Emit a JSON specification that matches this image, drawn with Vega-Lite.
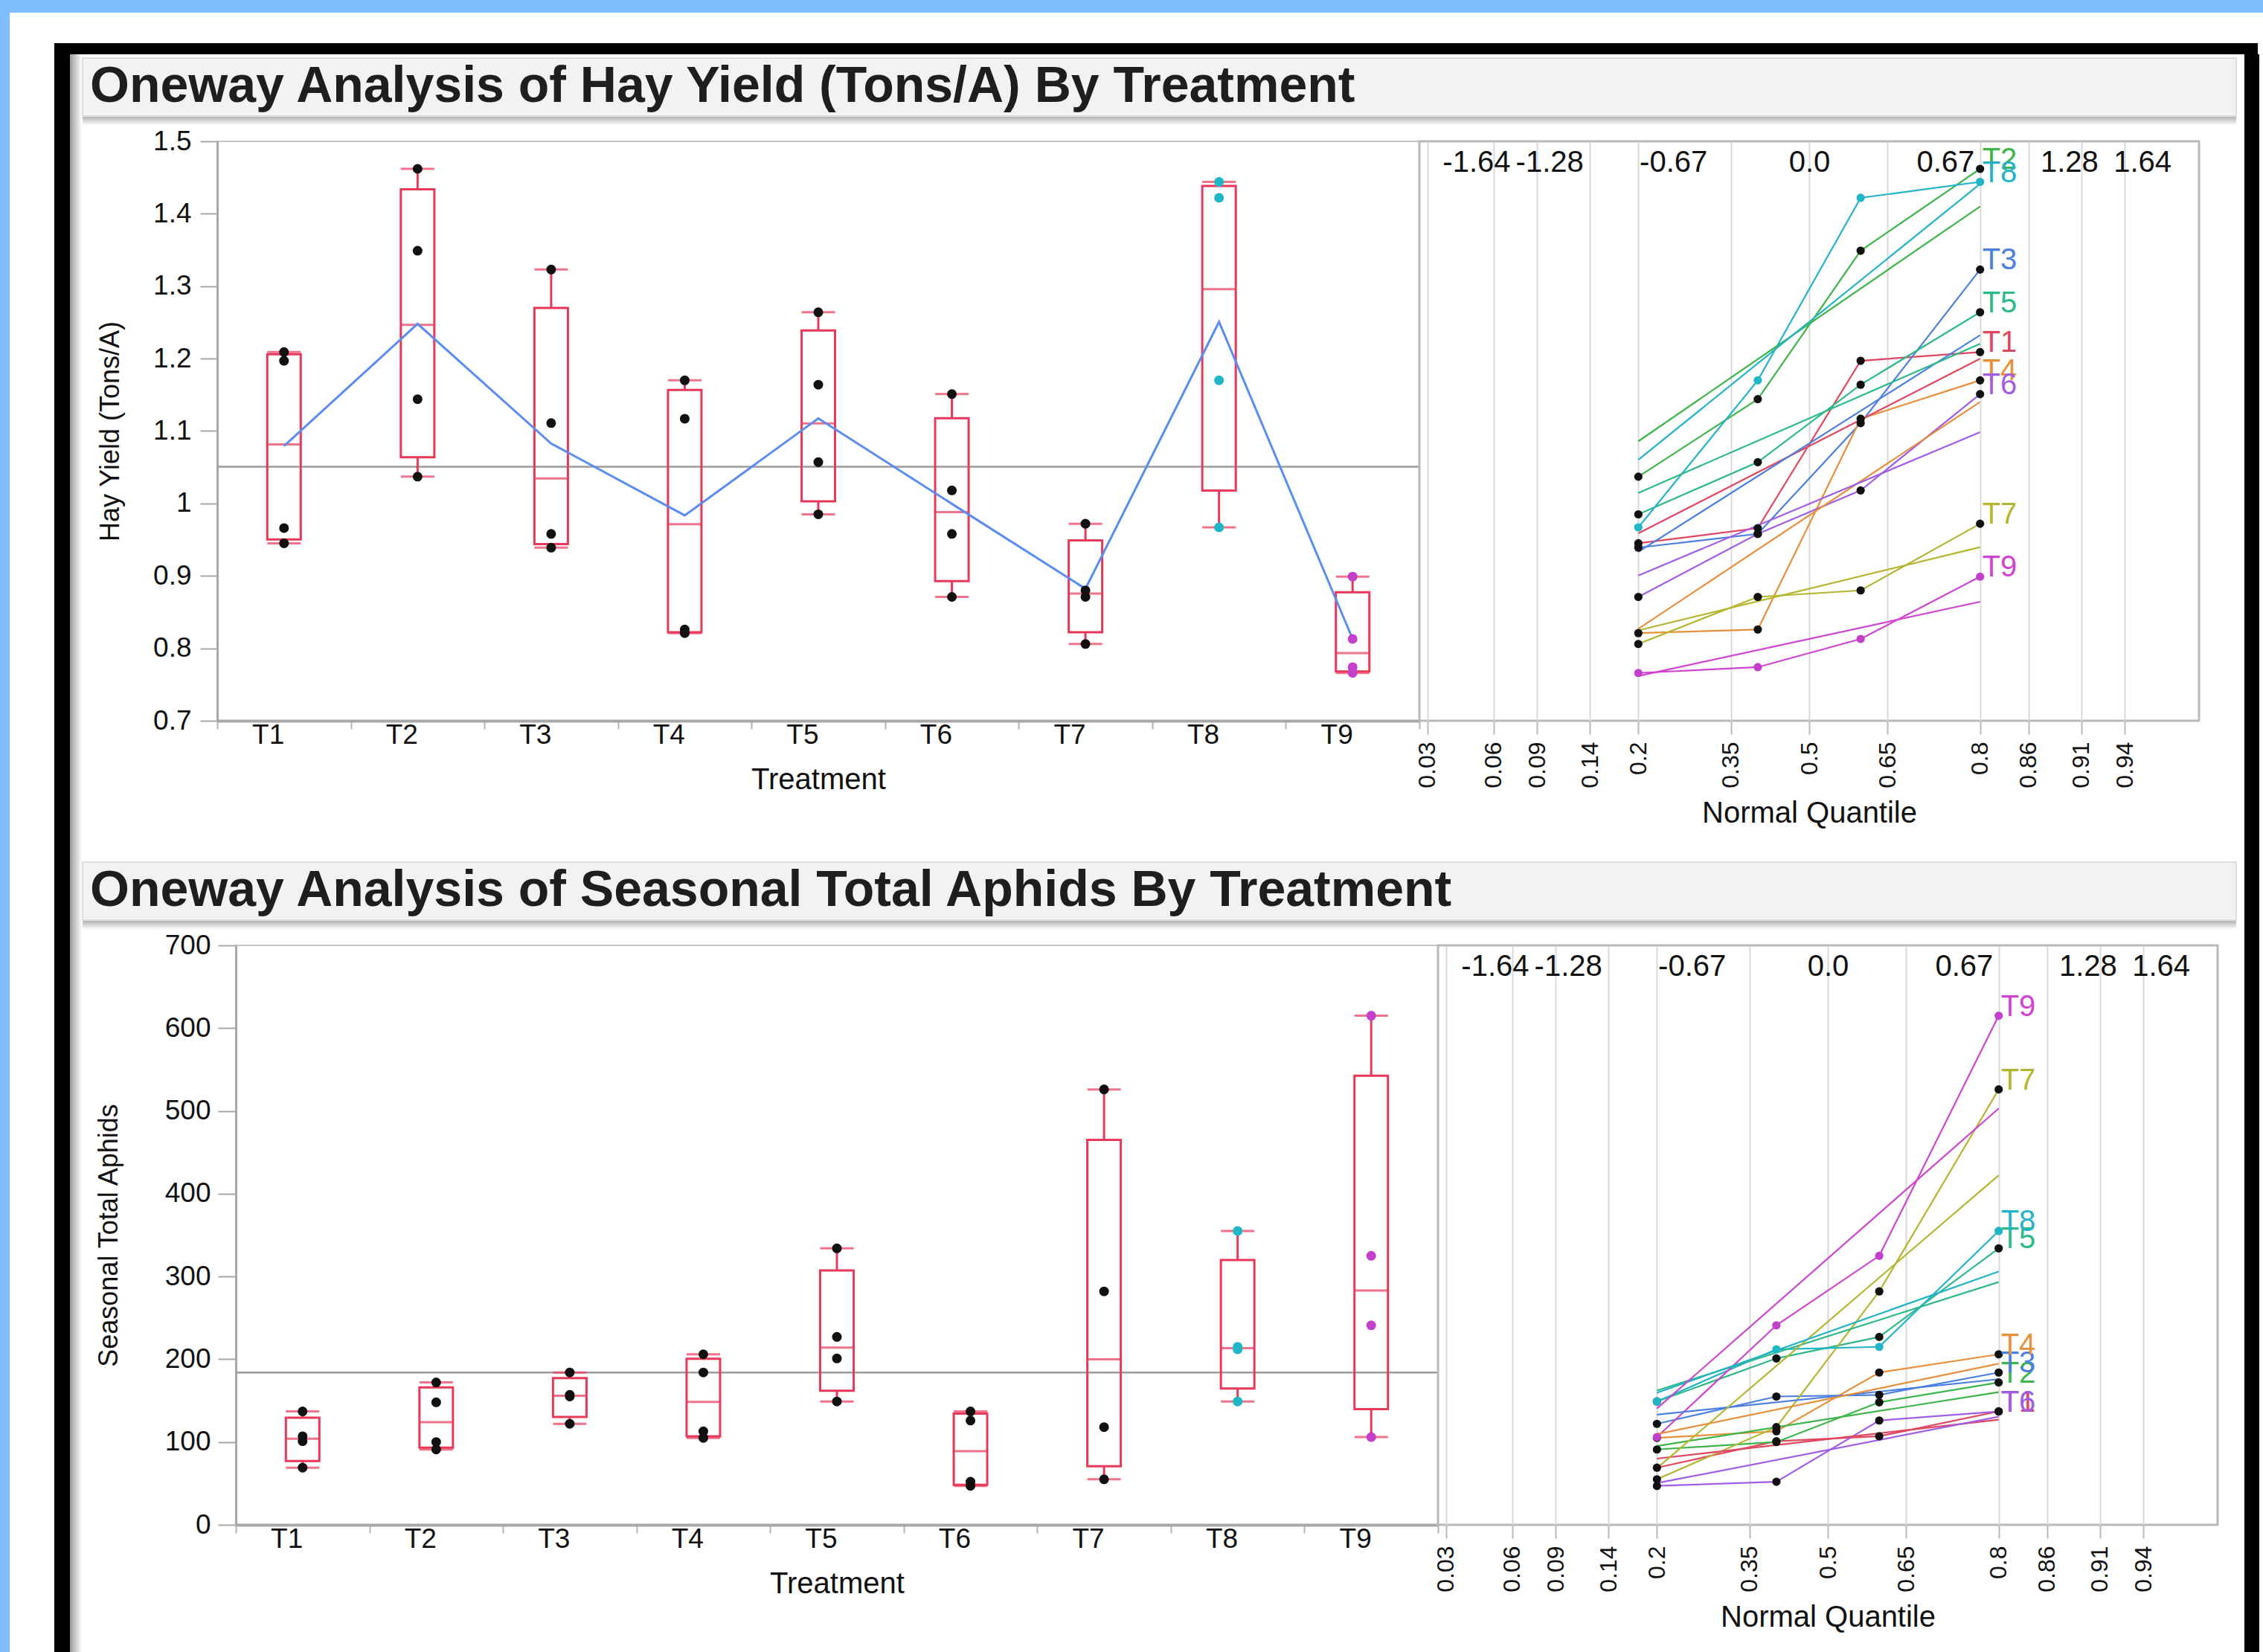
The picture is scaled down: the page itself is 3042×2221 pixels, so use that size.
{
  "$schema": "https://vega.github.io/schema/vega-lite/v6.json",
  "background": "#ffffff",
  "padding": 0,
  "spacing": 0,
  "config": {
    "view": {"stroke": null},
    "font": "Liberation Sans",
    "axis": {"labelColor": "#111111", "titleColor": "#111111", "titleFontWeight": "normal"}
  },
  "datasets": {
    "hay": [
      {"Treatment": "T1", "Yield": 0.945, "NormalQuantile": -0.8416},
      {"Treatment": "T1", "Yield": 0.966, "NormalQuantile": -0.2533},
      {"Treatment": "T1", "Yield": 1.197, "NormalQuantile": 0.2533},
      {"Treatment": "T1", "Yield": 1.209, "NormalQuantile": 0.8416},
      {"Treatment": "T2", "Yield": 1.037, "NormalQuantile": -0.8416},
      {"Treatment": "T2", "Yield": 1.144, "NormalQuantile": -0.2533},
      {"Treatment": "T2", "Yield": 1.349, "NormalQuantile": 0.2533},
      {"Treatment": "T2", "Yield": 1.462, "NormalQuantile": 0.8416},
      {"Treatment": "T3", "Yield": 0.939, "NormalQuantile": -0.8416},
      {"Treatment": "T3", "Yield": 0.958, "NormalQuantile": -0.2533},
      {"Treatment": "T3", "Yield": 1.111, "NormalQuantile": 0.2533},
      {"Treatment": "T3", "Yield": 1.323, "NormalQuantile": 0.8416},
      {"Treatment": "T4", "Yield": 0.821, "NormalQuantile": -0.8416},
      {"Treatment": "T4", "Yield": 0.826, "NormalQuantile": -0.2533},
      {"Treatment": "T4", "Yield": 1.117, "NormalQuantile": 0.2533},
      {"Treatment": "T4", "Yield": 1.170, "NormalQuantile": 0.8416},
      {"Treatment": "T5", "Yield": 0.985, "NormalQuantile": -0.8416},
      {"Treatment": "T5", "Yield": 1.057, "NormalQuantile": -0.2533},
      {"Treatment": "T5", "Yield": 1.164, "NormalQuantile": 0.2533},
      {"Treatment": "T5", "Yield": 1.264, "NormalQuantile": 0.8416},
      {"Treatment": "T6", "Yield": 0.871, "NormalQuantile": -0.8416},
      {"Treatment": "T6", "Yield": 0.958, "NormalQuantile": -0.2533},
      {"Treatment": "T6", "Yield": 1.018, "NormalQuantile": 0.2533},
      {"Treatment": "T6", "Yield": 1.151, "NormalQuantile": 0.8416},
      {"Treatment": "T7", "Yield": 0.806, "NormalQuantile": -0.8416},
      {"Treatment": "T7", "Yield": 0.871, "NormalQuantile": -0.2533},
      {"Treatment": "T7", "Yield": 0.880, "NormalQuantile": 0.2533},
      {"Treatment": "T7", "Yield": 0.972, "NormalQuantile": 0.8416},
      {"Treatment": "T8", "Yield": 0.967, "NormalQuantile": -0.8416},
      {"Treatment": "T8", "Yield": 1.170, "NormalQuantile": -0.2533},
      {"Treatment": "T8", "Yield": 1.422, "NormalQuantile": 0.2533},
      {"Treatment": "T8", "Yield": 1.444, "NormalQuantile": 0.8416},
      {"Treatment": "T9", "Yield": 0.766, "NormalQuantile": -0.8416},
      {"Treatment": "T9", "Yield": 0.774, "NormalQuantile": -0.2533},
      {"Treatment": "T9", "Yield": 0.813, "NormalQuantile": 0.2533},
      {"Treatment": "T9", "Yield": 0.899, "NormalQuantile": 0.8416}
    ],
    "hayBox": [
      {"Treatment": "T1", "Min": 0.945, "Q1": 0.9503, "Median": 1.0815, "Q3": 1.206, "Max": 1.209},
      {"Treatment": "T2", "Min": 1.037, "Q1": 1.0638, "Median": 1.2465, "Q3": 1.4338, "Max": 1.462},
      {"Treatment": "T3", "Min": 0.939, "Q1": 0.9438, "Median": 1.0345, "Q3": 1.270, "Max": 1.323},
      {"Treatment": "T4", "Min": 0.821, "Q1": 0.8223, "Median": 0.9715, "Q3": 1.1568, "Max": 1.170},
      {"Treatment": "T5", "Min": 0.985, "Q1": 1.003, "Median": 1.1105, "Q3": 1.239, "Max": 1.264},
      {"Treatment": "T6", "Min": 0.871, "Q1": 0.8928, "Median": 0.988, "Q3": 1.1178, "Max": 1.151},
      {"Treatment": "T7", "Min": 0.806, "Q1": 0.8223, "Median": 0.8755, "Q3": 0.949, "Max": 0.972},
      {"Treatment": "T8", "Min": 0.967, "Q1": 1.0178, "Median": 1.296, "Q3": 1.4385, "Max": 1.444},
      {"Treatment": "T9", "Min": 0.766, "Q1": 0.768, "Median": 0.7935, "Q3": 0.8775, "Max": 0.899}
    ],
    "hayFit": [
      {"Treatment": "T1", "NormalQuantile": -0.8416, "Yield": 0.9587}, {"Treatment": "T1", "NormalQuantile": 0.8416, "Yield": 1.1998},
      {"Treatment": "T2", "NormalQuantile": -0.8416, "Yield": 1.0859}, {"Treatment": "T2", "NormalQuantile": 0.8416, "Yield": 1.4101},
      {"Treatment": "T3", "NormalQuantile": -0.8416, "Yield": 0.9332}, {"Treatment": "T3", "NormalQuantile": 0.8416, "Yield": 1.2323},
      {"Treatment": "T4", "NormalQuantile": -0.8416, "Yield": 0.8269}, {"Treatment": "T4", "NormalQuantile": 0.8416, "Yield": 1.1401},
      {"Treatment": "T5", "NormalQuantile": -0.8416, "Yield": 1.0146}, {"Treatment": "T5", "NormalQuantile": 0.8416, "Yield": 1.2204},
      {"Treatment": "T6", "NormalQuantile": -0.8416, "Yield": 0.9005}, {"Treatment": "T6", "NormalQuantile": 0.8416, "Yield": 1.0985},
      {"Treatment": "T7", "NormalQuantile": -0.8416, "Yield": 0.8248}, {"Treatment": "T7", "NormalQuantile": 0.8416, "Yield": 0.9397},
      {"Treatment": "T8", "NormalQuantile": -0.8416, "Yield": 1.0603}, {"Treatment": "T8", "NormalQuantile": 0.8416, "Yield": 1.4412},
      {"Treatment": "T9", "NormalQuantile": -0.8416, "Yield": 0.7618}, {"Treatment": "T9", "NormalQuantile": 0.8416, "Yield": 0.8643}
    ],
    "aphids": [
      {"Treatment": "T1", "Aphids": 69, "NormalQuantile": -0.8416},
      {"Treatment": "T1", "Aphids": 101, "NormalQuantile": -0.2533},
      {"Treatment": "T1", "Aphids": 107, "NormalQuantile": 0.2533},
      {"Treatment": "T1", "Aphids": 137, "NormalQuantile": 0.8416},
      {"Treatment": "T2", "Aphids": 91, "NormalQuantile": -0.8416},
      {"Treatment": "T2", "Aphids": 100, "NormalQuantile": -0.2533},
      {"Treatment": "T2", "Aphids": 148, "NormalQuantile": 0.2533},
      {"Treatment": "T2", "Aphids": 172, "NormalQuantile": 0.8416},
      {"Treatment": "T3", "Aphids": 122, "NormalQuantile": -0.8416},
      {"Treatment": "T3", "Aphids": 155, "NormalQuantile": -0.2533},
      {"Treatment": "T3", "Aphids": 157, "NormalQuantile": 0.2533},
      {"Treatment": "T3", "Aphids": 184, "NormalQuantile": 0.8416},
      {"Treatment": "T4", "Aphids": 105, "NormalQuantile": -0.8416},
      {"Treatment": "T4", "Aphids": 113, "NormalQuantile": -0.2533},
      {"Treatment": "T4", "Aphids": 184, "NormalQuantile": 0.2533},
      {"Treatment": "T4", "Aphids": 206, "NormalQuantile": 0.8416},
      {"Treatment": "T5", "Aphids": 149, "NormalQuantile": -0.8416},
      {"Treatment": "T5", "Aphids": 201, "NormalQuantile": -0.2533},
      {"Treatment": "T5", "Aphids": 227, "NormalQuantile": 0.2533},
      {"Treatment": "T5", "Aphids": 334, "NormalQuantile": 0.8416},
      {"Treatment": "T6", "Aphids": 47, "NormalQuantile": -0.8416},
      {"Treatment": "T6", "Aphids": 52, "NormalQuantile": -0.2533},
      {"Treatment": "T6", "Aphids": 126, "NormalQuantile": 0.2533},
      {"Treatment": "T6", "Aphids": 137, "NormalQuantile": 0.8416},
      {"Treatment": "T7", "Aphids": 55, "NormalQuantile": -0.8416},
      {"Treatment": "T7", "Aphids": 118, "NormalQuantile": -0.2533},
      {"Treatment": "T7", "Aphids": 282, "NormalQuantile": 0.2533},
      {"Treatment": "T7", "Aphids": 526, "NormalQuantile": 0.8416},
      {"Treatment": "T8", "Aphids": 149, "NormalQuantile": -0.8416},
      {"Treatment": "T8", "Aphids": 212, "NormalQuantile": -0.2533},
      {"Treatment": "T8", "Aphids": 215, "NormalQuantile": 0.2533},
      {"Treatment": "T8", "Aphids": 355, "NormalQuantile": 0.8416},
      {"Treatment": "T9", "Aphids": 106, "NormalQuantile": -0.8416},
      {"Treatment": "T9", "Aphids": 241, "NormalQuantile": -0.2533},
      {"Treatment": "T9", "Aphids": 325, "NormalQuantile": 0.2533},
      {"Treatment": "T9", "Aphids": 615, "NormalQuantile": 0.8416}
    ],
    "aphidBox": [
      {"Treatment": "T1", "Min": 69, "Q1": 77, "Median": 104, "Q3": 129.5, "Max": 137},
      {"Treatment": "T2", "Min": 91, "Q1": 93.25, "Median": 124, "Q3": 166, "Max": 172},
      {"Treatment": "T3", "Min": 122, "Q1": 130.25, "Median": 156, "Q3": 177.25, "Max": 184},
      {"Treatment": "T4", "Min": 105, "Q1": 107, "Median": 148.5, "Q3": 200.5, "Max": 206},
      {"Treatment": "T5", "Min": 149, "Q1": 162, "Median": 214, "Q3": 307.25, "Max": 334},
      {"Treatment": "T6", "Min": 47, "Q1": 48.25, "Median": 89, "Q3": 134.25, "Max": 137},
      {"Treatment": "T7", "Min": 55, "Q1": 70.75, "Median": 200, "Q3": 465, "Max": 526},
      {"Treatment": "T8", "Min": 149, "Q1": 164.75, "Median": 213.5, "Q3": 320, "Max": 355},
      {"Treatment": "T9", "Min": 106, "Q1": 139.75, "Median": 283, "Q3": 542.5, "Max": 615}
    ],
    "aphidFit": [
      {"Treatment": "T1", "NormalQuantile": -0.8416, "Aphids": 80.0}, {"Treatment": "T1", "NormalQuantile": 0.8416, "Aphids": 127.0},
      {"Treatment": "T2", "NormalQuantile": -0.8416, "Aphids": 95.2}, {"Treatment": "T2", "NormalQuantile": 0.8416, "Aphids": 160.3},
      {"Treatment": "T3", "NormalQuantile": -0.8416, "Aphids": 133.1}, {"Treatment": "T3", "NormalQuantile": 0.8416, "Aphids": 175.9},
      {"Treatment": "T4", "NormalQuantile": -0.8416, "Aphids": 109.5}, {"Treatment": "T4", "NormalQuantile": 0.8416, "Aphids": 194.6},
      {"Treatment": "T5", "NormalQuantile": -0.8416, "Aphids": 162.2}, {"Treatment": "T5", "NormalQuantile": 0.8416, "Aphids": 293.3},
      {"Treatment": "T6", "NormalQuantile": -0.8416, "Aphids": 50.4}, {"Treatment": "T6", "NormalQuantile": 0.8416, "Aphids": 130.6},
      {"Treatment": "T7", "NormalQuantile": -0.8416, "Aphids": 68.4}, {"Treatment": "T7", "NormalQuantile": 0.8416, "Aphids": 422.2},
      {"Treatment": "T8", "NormalQuantile": -0.8416, "Aphids": 159.5}, {"Treatment": "T8", "NormalQuantile": 0.8416, "Aphids": 306.0},
      {"Treatment": "T9", "NormalQuantile": -0.8416, "Aphids": 140.5}, {"Treatment": "T9", "NormalQuantile": 0.8416, "Aphids": 503.0}
    ]
  },
  "vconcat": [
    {"width": 3042, "height": 17, "data": {"values": []}, "mark": "rect", "encoding": {}, "view": {"fill": "#80bfff", "stroke": null}},
    {
      "spacing": 0,
      "hconcat": [
        {"width": 13, "height": 2204, "data": {"values": []}, "mark": "rect", "encoding": {}, "view": {"fill": "#80bfff", "stroke": null}},
        {"width": 60, "height": 1, "data": {"values": []}, "mark": "rect", "encoding": {}, "view": {"fill": "#ffffff", "stroke": null}},
        {
          "spacing": 0,
          "vconcat": [
            {"width": 2962, "height": 41, "data": {"values": []}, "mark": "rect", "encoding": {}, "view": {"fill": "#ffffff", "stroke": null}},
            {"width": 2962, "height": 15, "data": {"values": []}, "mark": "rect", "encoding": {}, "view": {"fill": "#000000", "stroke": null}},
            {
              "spacing": 0,
              "hconcat": [
                {"width": 21, "height": 2148, "data": {"values": []}, "mark": "rect", "encoding": {}, "view": {"fill": "#000000", "stroke": null}},
                {"width": 16, "height": 2148, "data": {"values": []}, "mark": "rect", "encoding": {}, "view": {"stroke": null, "fill": {"gradient": "linear", "x1": 0, "y1": 0, "x2": 1, "y2": 0, "stops": [{"offset": 0, "color": "#9a9a9a"}, {"offset": 1, "color": "#ffffff"}]}}},
                {
                  "spacing": 0,
                  "vconcat": [
                    {"width": 1, "height": 4, "data": {"values": []}, "mark": "rect", "encoding": {}, "view": {"fill": "#ffffff", "stroke": null}},
                    {
                      "width": 2895, "height": 78,
                      "data": {"values": []}, "mark": "rect", "encoding": {},
                      "view": {"fill": "#f2f2f2", "stroke": "#d6d6d6", "strokeWidth": 1.5},
                      "title": {"text": "Oneway Analysis of Hay Yield (Tons/A) By Treatment", "anchor": "start", "frame": "group", "offset": -127, "baseline": "alphabetic", "dx": 10, "fontSize": 68, "fontWeight": "bold", "color": "#1e1e1e"}
                    },
                    {"width": 2895, "height": 13, "data": {"values": []}, "mark": "rect", "encoding": {}, "view": {"stroke": null, "fill": {"gradient": "linear", "x1": 0, "y1": 0, "x2": 0, "y2": 1, "stops": [{"offset": 0, "color": "#b3b3b3"}, {"offset": 0.9, "color": "#ffffff"}]}}},
                    {
                      "spacing": 0,
                      "bounds": "flush",
                      "hconcat": [
                        {"width": 181, "height": 1, "data": {"values": []}, "mark": "rect", "encoding": {}, "view": {"fill": "#ffffff", "stroke": null}},
                        {
                          "width": 1616, "height": 779,
                          "view": {"stroke": "#c4c4c4", "strokeWidth": 2, "fill": "#ffffff"},
                          "layer": [
                            {
                              "data": {"name": "hay"},
                              "mark": {"type": "rule", "color": "#9c9c9c", "strokeWidth": 2.5},
                              "encoding": {"y": {"aggregate": "mean", "field": "Yield", "type": "quantitative", "title": "Hay Yield (Tons/A)", "scale": {"domain": [0.7, 1.5], "nice": false, "zero": false}}}
                            },
                            {
                              "data": {"name": "hayBox"},
                              "mark": {"type": "bar", "width": 45, "filled": false, "color": "#e8395a", "strokeWidth": 3},
                              "encoding": {
                                "x": {"field": "Treatment", "type": "nominal", "title": "Treatment", "scale": {"type": "band", "domain": ["T1","T2","T3","T4","T5","T6","T7","T8","T9"], "paddingInner": 0, "paddingOuter": 0}},
                                "y": {"field": "Q1", "type": "quantitative", "title": "Hay Yield (Tons/A)"},
                                "y2": {"field": "Q3"}
                              }
                            },
                            {
                              "data": {"name": "hayBox"},
                              "mark": {"type": "rule", "color": "#e8395a", "strokeWidth": 3},
                              "encoding": {
                                "x": {"field": "Treatment", "type": "nominal", "title": "Treatment", "scale": {"type": "band"}},
                                "y": {"field": "Q3", "type": "quantitative", "title": "Hay Yield (Tons/A)"},
                                "y2": {"field": "Max"}
                              }
                            },
                            {
                              "data": {"name": "hayBox"},
                              "mark": {"type": "rule", "color": "#e8395a", "strokeWidth": 3},
                              "encoding": {
                                "x": {"field": "Treatment", "type": "nominal", "title": "Treatment", "scale": {"type": "band"}},
                                "y": {"field": "Min", "type": "quantitative", "title": "Hay Yield (Tons/A)"},
                                "y2": {"field": "Q1"}
                              }
                            },
                            {
                              "data": {"name": "hayBox"},
                              "mark": {"type": "tick", "color": "#e8395a", "size": 45, "thickness": 3},
                              "encoding": {
                                "x": {"field": "Treatment", "type": "nominal", "title": "Treatment", "scale": {"type": "band"}},
                                "y": {"field": "Median", "type": "quantitative", "title": "Hay Yield (Tons/A)"}
                              }
                            },
                            {
                              "data": {"name": "hayBox"},
                              "mark": {"type": "tick", "color": "#e8395a", "size": 45, "thickness": 3},
                              "encoding": {
                                "x": {"field": "Treatment", "type": "nominal", "title": "Treatment", "scale": {"type": "band"}},
                                "y": {"field": "Max", "type": "quantitative", "title": "Hay Yield (Tons/A)"}
                              }
                            },
                            {
                              "data": {"name": "hayBox"},
                              "mark": {"type": "tick", "color": "#e8395a", "size": 45, "thickness": 3},
                              "encoding": {
                                "x": {"field": "Treatment", "type": "nominal", "title": "Treatment", "scale": {"type": "band"}},
                                "y": {"field": "Min", "type": "quantitative", "title": "Hay Yield (Tons/A)"}
                              }
                            },
                            {
                              "data": {"name": "hay"},
                              "mark": {"type": "line", "color": "#5b8cf0", "strokeWidth": 3},
                              "encoding": {
                                "x": {"field": "Treatment", "type": "nominal", "title": "Treatment", "scale": {"type": "band"}},
                                "y": {"aggregate": "mean", "field": "Yield", "type": "quantitative", "title": "Hay Yield (Tons/A)"}
                              }
                            },
                            {
                              "data": {"name": "hay"},
                              "mark": {"type": "circle", "size": 170, "opacity": 1},
                              "encoding": {
                                "x": {"field": "Treatment", "type": "nominal", "scale": {"type": "band"}, "title": "Treatment",
                                  "axis": {"labelAngle": 0, "tickBand": "extent", "domainColor": "#a8a8a8", "domainWidth": 4, "tickColor": "#b4b4b4", "tickWidth": 2, "tickSize": 11, "labelPadding": 8, "labelFontSize": 37, "titleFontSize": 40, "titlePadding": 22}},
                                "y": {"field": "Yield", "type": "quantitative", "title": "Hay Yield (Tons/A)",
                                  "axis": {"values": [0.7, 0.8, 0.9, 1, 1.1, 1.2, 1.3, 1.4, 1.5], "format": "~g", "grid": false, "domainColor": "#a8a8a8", "domainWidth": 3, "tickColor": "#a8a8a8", "tickWidth": 2, "tickSize": 23, "labelPadding": 12, "labelFontSize": 37, "titleFontSize": 36, "titlePadding": 38}},
                                "fill": {"field": "Treatment", "type": "nominal", "legend": null,
                                  "scale": {"domain": ["T1","T2","T3","T4","T5","T6","T7","T8","T9"], "range": ["#111111","#111111","#111111","#111111","#111111","#111111","#111111","#1fb6c6","#c43fcc"]}}
                              }
                            }
                          ]
                        },
                        {
                          "width": 1048, "height": 779,
                          "view": {"stroke": "#b9b9b9", "strokeWidth": 3, "fill": "#ffffff"},
                          "resolve": {"axis": {"x": "independent"}},
                          "layer": [
                            {
                              "data": {"name": "hay"},
                              "mark": {"type": "line", "strokeWidth": 2.2},
                              "encoding": {
                                "x": {"field": "NormalQuantile", "type": "quantitative", "title": "Normal Quantile",
                                  "scale": {"domain": [-1.92, 1.92], "nice": false, "zero": false},
                                  "axis": {"orient": "bottom", "values": [-1.8808, -1.5548, -1.3408, -1.0803, -0.8416, -0.3853, 0, 0.3853, 0.8416, 1.0803, 1.3408, 1.5548], "labelExpr": "format(cumulativeNormal(datum.value), '.2~f')", "labelAngle": 270, "labelOverlap": false, "labelFlush": false, "grid": true, "gridColor": "#dadada", "gridWidth": 2, "domain": false, "tickColor": "#b9b9b9", "tickWidth": 2, "tickSize": 18, "labelPadding": 10, "labelFontSize": 32, "titleFontSize": 40, "titlePadding": 14}},
                                "y": {"field": "Yield", "type": "quantitative", "scale": {"domain": [0.7, 1.5], "nice": false, "zero": false}, "axis": null},
                                "stroke": {"field": "Treatment", "type": "nominal", "legend": null,
                                  "scale": {"domain": ["T1","T2","T3","T4","T5","T6","T7","T8","T9"], "range": ["#e0475f","#3db54a","#4b7fe0","#e6903c","#2db98a","#a05ee6","#b5b530","#22b4c6","#cf45cf"]}},
                                "order": {"field": "NormalQuantile", "type": "quantitative"}
                              }
                            },
                            {
                              "data": {"name": "hayFit"},
                              "mark": {"type": "line", "strokeWidth": 2.2},
                              "encoding": {
                                "x": {"field": "NormalQuantile", "type": "quantitative", "axis": null},
                                "y": {"field": "Yield", "type": "quantitative", "axis": null},
                                "stroke": {"field": "Treatment", "type": "nominal", "legend": null},
                                "order": {"field": "NormalQuantile", "type": "quantitative"}
                              }
                            },
                            {
                              "data": {"name": "hay"},
                              "mark": {"type": "circle", "size": 125, "opacity": 1},
                              "encoding": {
                                "x": {"field": "NormalQuantile", "type": "quantitative", "axis": null},
                                "y": {"field": "Yield", "type": "quantitative", "axis": null},
                                "fill": {"field": "Treatment", "type": "nominal", "legend": null}
                              }
                            },
                            {
                              "data": {"name": "hay"},
                              "transform": [{"filter": "datum.NormalQuantile > 0.5"}],
                              "mark": {"type": "text", "align": "left", "baseline": "alphabetic", "dx": 3, "fontSize": 40},
                              "encoding": {
                                "x": {"field": "NormalQuantile", "type": "quantitative",
                                  "axis": {"orient": "top", "title": null, "values": [-1.64, -1.28, -0.67, 0, 0.67, 1.28, 1.64], "labelExpr": "datum.value == 0 ? '0.0' : (datum.value < 0 ? '-' : '') + format(abs(datum.value), '.2f')", "ticks": false, "tickSize": 0, "domain": false, "grid": false, "labelPadding": -40, "labelBaseline": "alphabetic", "labelFontSize": 40, "labelOverlap": false, "labelFlush": false}},
                                "y": {"field": "Yield", "type": "quantitative", "axis": null},
                                "text": {"field": "Treatment", "type": "nominal"},
                                "color": {"field": "Treatment", "type": "nominal", "legend": null,
                                  "scale": {"domain": ["T1","T2","T3","T4","T5","T6","T7","T8","T9"], "range": ["#e0475f","#3db54a","#4b7fe0","#e6903c","#2db98a","#a05ee6","#b5b530","#22b4c6","#cf45cf"]}}
                              }
                            }
                          ]
                        }
                      ]
                    },
                    {"width": 1, "height": 43, "data": {"values": []}, "mark": "rect", "encoding": {}, "view": {"fill": "#ffffff", "stroke": null}},
                    {
                      "width": 2895, "height": 78,
                      "data": {"values": []}, "mark": "rect", "encoding": {},
                      "view": {"fill": "#f2f2f2", "stroke": "#d6d6d6", "strokeWidth": 1.5},
                      "title": {"text": "Oneway Analysis of Seasonal Total Aphids By Treatment", "anchor": "start", "frame": "group", "offset": -127, "baseline": "alphabetic", "dx": 10, "fontSize": 68, "fontWeight": "bold", "color": "#1e1e1e"}
                    },
                    {"width": 2895, "height": 13, "data": {"values": []}, "mark": "rect", "encoding": {}, "view": {"stroke": null, "fill": {"gradient": "linear", "x1": 0, "y1": 0, "x2": 0, "y2": 1, "stops": [{"offset": 0, "color": "#b3b3b3"}, {"offset": 0.9, "color": "#ffffff"}]}}},
                    {
                      "spacing": 0,
                      "bounds": "flush",
                      "hconcat": [
                        {"width": 206, "height": 1, "data": {"values": []}, "mark": "rect", "encoding": {}, "view": {"fill": "#ffffff", "stroke": null}},
                        {
                          "width": 1616, "height": 779,
                          "view": {"stroke": "#c4c4c4", "strokeWidth": 2, "fill": "#ffffff"},
                          "layer": [
                            {
                              "data": {"name": "aphids"},
                              "mark": {"type": "rule", "color": "#9c9c9c", "strokeWidth": 2.5},
                              "encoding": {"y": {"aggregate": "mean", "field": "Aphids", "type": "quantitative", "title": "Seasonal Total Aphids", "scale": {"domain": [0, 700], "nice": false, "zero": false}}}
                            },
                            {
                              "data": {"name": "aphidBox"},
                              "mark": {"type": "bar", "width": 45, "filled": false, "color": "#e8395a", "strokeWidth": 3},
                              "encoding": {
                                "x": {"field": "Treatment", "type": "nominal", "title": "Treatment", "scale": {"type": "band", "domain": ["T1","T2","T3","T4","T5","T6","T7","T8","T9"], "paddingInner": 0, "paddingOuter": 0}},
                                "y": {"field": "Q1", "type": "quantitative", "title": "Seasonal Total Aphids"},
                                "y2": {"field": "Q3"}
                              }
                            },
                            {
                              "data": {"name": "aphidBox"},
                              "mark": {"type": "rule", "color": "#e8395a", "strokeWidth": 3},
                              "encoding": {
                                "x": {"field": "Treatment", "type": "nominal", "title": "Treatment", "scale": {"type": "band"}},
                                "y": {"field": "Q3", "type": "quantitative", "title": "Seasonal Total Aphids"},
                                "y2": {"field": "Max"}
                              }
                            },
                            {
                              "data": {"name": "aphidBox"},
                              "mark": {"type": "rule", "color": "#e8395a", "strokeWidth": 3},
                              "encoding": {
                                "x": {"field": "Treatment", "type": "nominal", "title": "Treatment", "scale": {"type": "band"}},
                                "y": {"field": "Min", "type": "quantitative", "title": "Seasonal Total Aphids"},
                                "y2": {"field": "Q1"}
                              }
                            },
                            {
                              "data": {"name": "aphidBox"},
                              "mark": {"type": "tick", "color": "#e8395a", "size": 45, "thickness": 3},
                              "encoding": {
                                "x": {"field": "Treatment", "type": "nominal", "title": "Treatment", "scale": {"type": "band"}},
                                "y": {"field": "Median", "type": "quantitative", "title": "Seasonal Total Aphids"}
                              }
                            },
                            {
                              "data": {"name": "aphidBox"},
                              "mark": {"type": "tick", "color": "#e8395a", "size": 45, "thickness": 3},
                              "encoding": {
                                "x": {"field": "Treatment", "type": "nominal", "title": "Treatment", "scale": {"type": "band"}},
                                "y": {"field": "Max", "type": "quantitative", "title": "Seasonal Total Aphids"}
                              }
                            },
                            {
                              "data": {"name": "aphidBox"},
                              "mark": {"type": "tick", "color": "#e8395a", "size": 45, "thickness": 3},
                              "encoding": {
                                "x": {"field": "Treatment", "type": "nominal", "title": "Treatment", "scale": {"type": "band"}},
                                "y": {"field": "Min", "type": "quantitative", "title": "Seasonal Total Aphids"}
                              }
                            },
                            {
                              "data": {"name": "aphids"},
                              "mark": {"type": "circle", "size": 170, "opacity": 1},
                              "encoding": {
                                "x": {"field": "Treatment", "type": "nominal", "scale": {"type": "band"}, "title": "Treatment",
                                  "axis": {"labelAngle": 0, "tickBand": "extent", "domainColor": "#a8a8a8", "domainWidth": 4, "tickColor": "#b4b4b4", "tickWidth": 2, "tickSize": 11, "labelPadding": 8, "labelFontSize": 37, "titleFontSize": 40, "titlePadding": 22}},
                                "y": {"field": "Aphids", "type": "quantitative", "title": "Seasonal Total Aphids",
                                  "axis": {"values": [0, 100, 200, 300, 400, 500, 600, 700], "format": "d", "grid": false, "domainColor": "#a8a8a8", "domainWidth": 3, "tickColor": "#a8a8a8", "tickWidth": 2, "tickSize": 24, "labelPadding": 10, "labelFontSize": 37, "titleFontSize": 36, "titlePadding": 56}},
                                "fill": {"field": "Treatment", "type": "nominal", "legend": null}
                              }
                            }
                          ]
                        },
                        {
                          "width": 1048, "height": 779,
                          "view": {"stroke": "#b9b9b9", "strokeWidth": 3, "fill": "#ffffff"},
                          "resolve": {"axis": {"x": "independent"}},
                          "layer": [
                            {
                              "data": {"name": "aphids"},
                              "mark": {"type": "line", "strokeWidth": 2.2},
                              "encoding": {
                                "x": {"field": "NormalQuantile", "type": "quantitative", "title": "Normal Quantile",
                                  "scale": {"domain": [-1.92, 1.92], "nice": false, "zero": false},
                                  "axis": {"orient": "bottom", "values": [-1.8808, -1.5548, -1.3408, -1.0803, -0.8416, -0.3853, 0, 0.3853, 0.8416, 1.0803, 1.3408, 1.5548], "labelExpr": "format(cumulativeNormal(datum.value), '.2~f')", "labelAngle": 270, "labelOverlap": false, "labelFlush": false, "grid": true, "gridColor": "#dadada", "gridWidth": 2, "domain": false, "tickColor": "#b9b9b9", "tickWidth": 2, "tickSize": 18, "labelPadding": 10, "labelFontSize": 32, "titleFontSize": 40, "titlePadding": 14}},
                                "y": {"field": "Aphids", "type": "quantitative", "scale": {"domain": [0, 700], "nice": false, "zero": false}, "axis": null},
                                "stroke": {"field": "Treatment", "type": "nominal", "legend": null},
                                "order": {"field": "NormalQuantile", "type": "quantitative"}
                              }
                            },
                            {
                              "data": {"name": "aphidFit"},
                              "mark": {"type": "line", "strokeWidth": 2.2},
                              "encoding": {
                                "x": {"field": "NormalQuantile", "type": "quantitative", "axis": null},
                                "y": {"field": "Aphids", "type": "quantitative", "axis": null},
                                "stroke": {"field": "Treatment", "type": "nominal", "legend": null},
                                "order": {"field": "NormalQuantile", "type": "quantitative"}
                              }
                            },
                            {
                              "data": {"name": "aphids"},
                              "mark": {"type": "circle", "size": 125, "opacity": 1},
                              "encoding": {
                                "x": {"field": "NormalQuantile", "type": "quantitative", "axis": null},
                                "y": {"field": "Aphids", "type": "quantitative", "axis": null},
                                "fill": {"field": "Treatment", "type": "nominal", "legend": null}
                              }
                            },
                            {
                              "data": {"name": "aphids"},
                              "transform": [{"filter": "datum.NormalQuantile > 0.5"}],
                              "mark": {"type": "text", "align": "left", "baseline": "alphabetic", "dx": 3, "fontSize": 40},
                              "encoding": {
                                "x": {"field": "NormalQuantile", "type": "quantitative",
                                  "axis": {"orient": "top", "title": null, "values": [-1.64, -1.28, -0.67, 0, 0.67, 1.28, 1.64], "labelExpr": "datum.value == 0 ? '0.0' : (datum.value < 0 ? '-' : '') + format(abs(datum.value), '.2f')", "ticks": false, "tickSize": 0, "domain": false, "grid": false, "labelPadding": -40, "labelBaseline": "alphabetic", "labelFontSize": 40, "labelOverlap": false, "labelFlush": false}},
                                "y": {"field": "Aphids", "type": "quantitative", "axis": null},
                                "text": {"field": "Treatment", "type": "nominal"},
                                "color": {"field": "Treatment", "type": "nominal", "legend": null}
                              }
                            }
                          ]
                        }
                      ]
                    }
                  ]
                },
                {"width": 10, "height": 1, "data": {"values": []}, "mark": "rect", "encoding": {}, "view": {"fill": "#ffffff", "stroke": null}},
                {"width": 20, "height": 2148, "data": {"values": []}, "mark": "rect", "encoding": {}, "view": {"fill": "#000000", "stroke": null}}
              ]
            }
          ]
        }
      ]
    }
  ]
}
